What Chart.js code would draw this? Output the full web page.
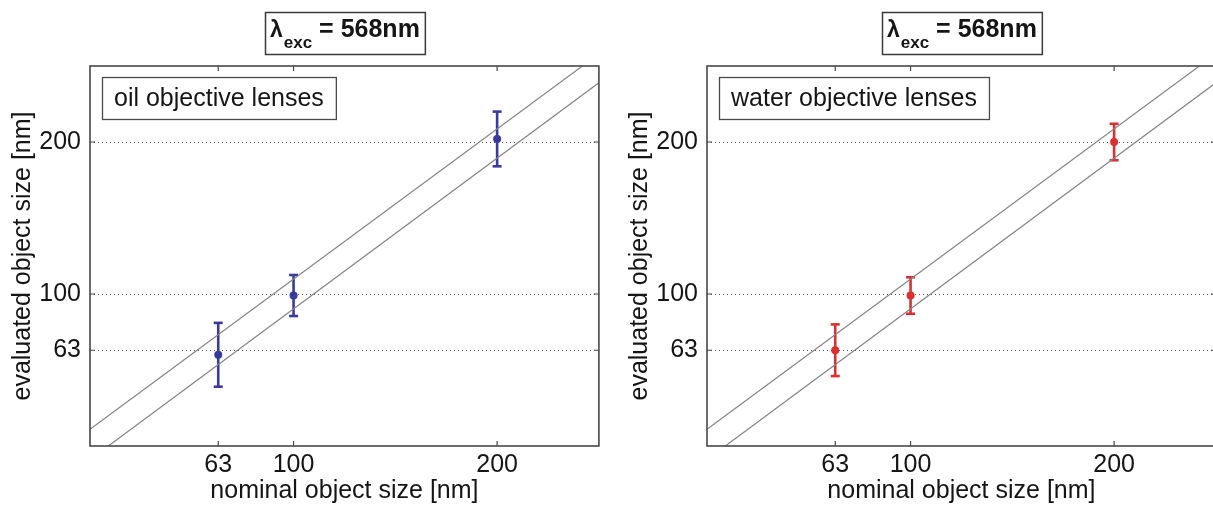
<!DOCTYPE html>
<html><head><meta charset="utf-8">
<script src="https://cdn.jsdelivr.net/npm/chart.js@4.4.1/dist/chart.umd.min.js"></script>
<style>
html,body{margin:0;padding:0;background:#fff;overflow:hidden;width:1213px;height:506px;position:relative;}
.panel{position:absolute;top:0;width:606px;height:506px;}
#p1{left:0px} #p2{left:617px}
</style></head><body>
<div class="panel" id="p1"><canvas id="c1" width="606" height="506"></canvas></div>
<div class="panel" id="p2"><canvas id="c2" width="606" height="506"></canvas></div>
<script>
// ---- data ----
const tickValues = [63, 100, 200];
const axisMin = 0, axisMax = 250;
const titleMain = 'λ', titleSub = 'exc', titleRest = ' = 568nm';
const xTitle = 'nominal object size [nm]';
const yTitle = 'evaluated object size [nm]';
const boundUpperX = [0, 250], boundUpperY = [11, 258];
const boundLowerX = [9, 250], boundLowerY = [0, 239];
const oilLabel = 'oil objective lenses';
const oilX = [63, 100, 200];
const oilY = [60, 99, 202];
const oilErr = [21, 13.5, 18];
const waterLabel = 'water objective lenses';
const waterX = [63, 100, 200];
const waterY = [63, 99, 200];
const waterErr = [17, 12, 12];

const FAM = '"Liberation Sans", Arial, Helvetica, sans-serif';
const TXT = '#151515';

const deco = {
  id: 'deco',
  afterDraw(chart, args, opts) {
    const ctx = chart.ctx, a = chart.chartArea;
    const xs = chart.scales.x, ys = chart.scales.y;
    ctx.save();
    // label box
    ctx.font = '25px ' + FAM;
    const tw = ctx.measureText(opts.label).width;
    const bx = a.left + 12, by = a.top + 11, bw = tw + 24, bh = 42;
    ctx.fillStyle = '#fff';
    ctx.fillRect(bx, by, bw, bh);
    ctx.strokeStyle = '#4a4a4a'; ctx.lineWidth = 1.3;
    ctx.strokeRect(bx + 0.5, by + 0.5, bw, bh);
    ctx.fillStyle = TXT; ctx.textBaseline = 'alphabetic'; ctx.textAlign = 'left';
    ctx.fillText(opts.label, bx + 12, by + 29);
    // frame
    ctx.strokeStyle = '#484848'; ctx.lineWidth = 1.6;
    ctx.strokeRect(a.left, a.top, a.right - a.left, a.bottom - a.top);
    // inward ticks
    ctx.lineWidth = 1.2;
    ctx.beginPath();
    tickValues.forEach(v => {
      const px = xs.getPixelForValue(v);
      ctx.moveTo(px, a.bottom); ctx.lineTo(px, a.bottom - 5);
      ctx.moveTo(px, a.top); ctx.lineTo(px, a.top + 5);
      const py = ys.getPixelForValue(v);
      ctx.moveTo(a.left, py); ctx.lineTo(a.left + 5, py);
      ctx.moveTo(a.right, py); ctx.lineTo(a.right - 5, py);
    });
    ctx.stroke();
    // title box
    const fLam = 'bold 23px ' + FAM, fMain = 'bold 25px ' + FAM, fSub = 'bold 17px ' + FAM;
    ctx.font = fLam; const w1 = ctx.measureText(titleMain).width;
    ctx.font = fSub; const w2 = ctx.measureText(titleSub).width;
    ctx.font = fMain; const w3 = ctx.measureText(titleRest).width;
    const total = w1 + 1 + w2 + w3;
    const cx = (a.left + a.right) / 2;
    const tbw = total + 10, tbh = 42;
    const tbx = Math.round(cx - tbw / 2), tby = 12;
    ctx.fillStyle = '#fff'; ctx.fillRect(tbx, tby, tbw, tbh);
    ctx.strokeStyle = '#3a3a3a'; ctx.lineWidth = 1.5;
    ctx.strokeRect(tbx + 0.5, tby + 0.5, tbw, tbh);
    ctx.fillStyle = TXT;
    let x = tbx + 5;
    ctx.font = fLam; ctx.fillText(titleMain, x, 37); x += w1 + 1;
    ctx.font = fSub; ctx.fillText(titleSub, x, 48); x += w2;
    ctx.font = fMain; ctx.fillText(titleRest, x, 37);
    ctx.restore();
  }
};

function makeChart(id, label, xs, ys, errs, color) {
  const datasets = [
    { type: 'line', data: boundUpperX.map((v, i) => ({x: v, y: boundUpperY[i]})),
      borderColor: '#858585', borderWidth: 1.2, pointRadius: 0, fill: false },
    { type: 'line', data: boundLowerX.map((v, i) => ({x: v, y: boundLowerY[i]})),
      borderColor: '#858585', borderWidth: 1.2, pointRadius: 0, fill: false }
  ];
  xs.forEach((xv, i) => {
    datasets.push({ type: 'line',
      data: [{x: xv, y: ys[i] - errs[i]}, {x: xv, y: ys[i] + errs[i]}],
      borderColor: color, borderWidth: 2.6, pointStyle: 'line', pointRadius: 4.5,
      pointBorderWidth: 2.6, pointBorderColor: color, pointBackgroundColor: color, fill: false });
  });
  datasets.push({ type: 'scatter', data: xs.map((v, i) => ({x: v, y: ys[i]})),
    pointRadius: 4, pointBackgroundColor: color, pointBorderColor: color, pointBorderWidth: 0 });

  const tickFont = { family: FAM, size: 25 };
  const setTicks = s => { s.ticks = tickValues.map(v => ({ value: v })); };
  return new Chart(document.getElementById(id), {
    data: { datasets },
    plugins: [deco],
    options: {
      responsive: false, animation: false, devicePixelRatio: 1,
      layout: { padding: { top: 66, left: 0, right: 4, bottom: 0 } },
      plugins: { legend: { display: false }, tooltip: { enabled: false }, deco: { label } },
      scales: {
        x: { type: 'linear', min: axisMin, max: axisMax, afterBuildTicks: setTicks,
          afterFit: s => { s.height = 60; },
          grid: { display: false, drawTicks: false }, border: { display: false },
          ticks: { font: tickFont, color: TXT, padding: 4, autoSkip: false, maxRotation: 0 },
          title: { display: true, text: xTitle, font: tickFont, color: TXT, padding: { top: 0, bottom: 0 } } },
        y: { type: 'linear', min: axisMin, max: axisMax, afterBuildTicks: setTicks,
          afterFit: s => { s.width = 90; },
          grid: { display: true, drawTicks: false, color: '#555', lineWidth: 1 },
          border: { display: false, dash: [1, 3] },
          ticks: { font: tickFont, color: TXT, padding: 9, autoSkip: false },
          title: { display: true, text: yTitle, font: tickFont, color: TXT, padding: { top: 8, bottom: 0 } } }
      }
    }
  });
}
makeChart('c1', oilLabel, oilX, oilY, oilErr, '#3a3a9c');
makeChart('c2', waterLabel, waterX, waterY, waterErr, '#dc3030');
</script>
</body></html>
